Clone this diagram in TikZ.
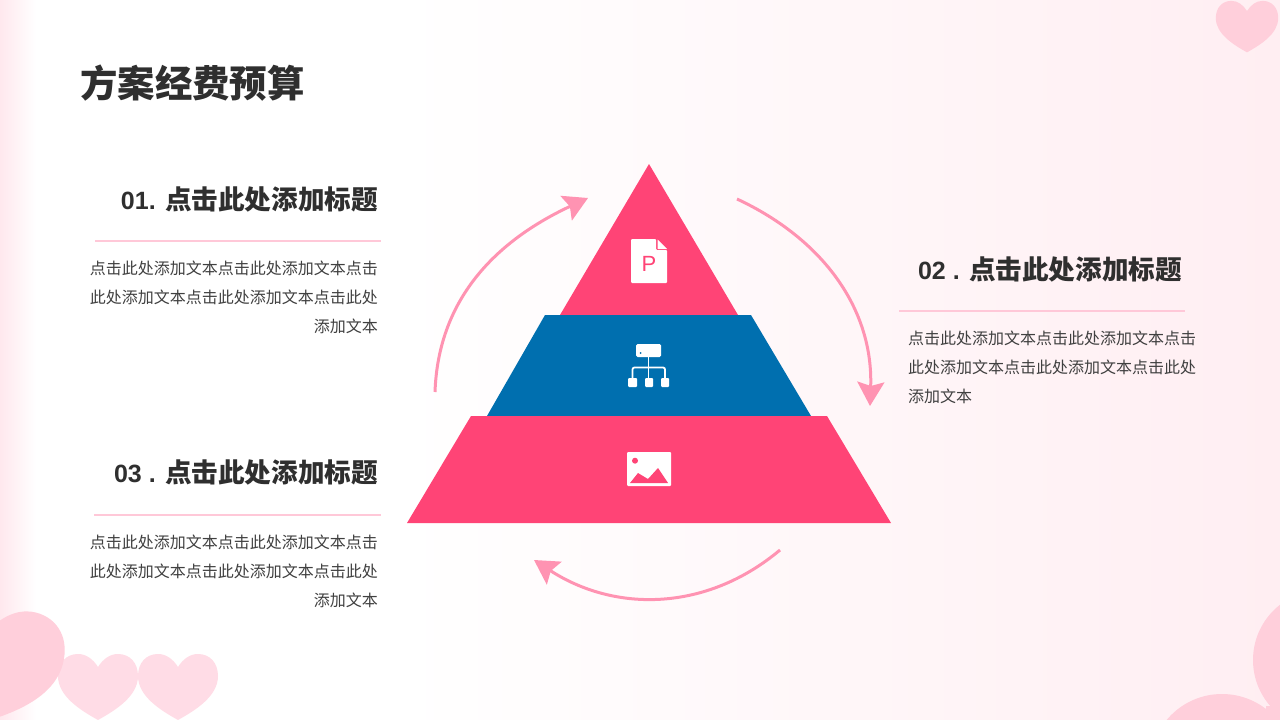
\documentclass[tikz,border=0pt]{standalone}
\usepackage{fontspec}
\setmainfont{Noto Sans CJK SC}
\newfontfamily\latinfont{Liberation Sans}
\usetikzlibrary{arrows.meta}
\definecolor{rosered}{HTML}{FF4476}
\definecolor{tierblue}{HTML}{006FAF}
\definecolor{arcpink}{HTML}{FF93B2}
\definecolor{rulepink}{HTML}{FFC8D8}
\definecolor{heartdeep}{HTML}{FFCFDB}
\definecolor{heartsoft}{HTML}{FFDCE6}
\definecolor{inkdark}{HTML}{2F2F2F}
\definecolor{inkbody}{HTML}{404040}
\definecolor{tintright}{HTML}{FFEEF2}
\definecolor{tintleft}{HTML}{FFE8EE}
\tikzset{
  pics/heart/.style={code={
    \fill[pic actions] (0,0) .. controls (5,-8) and (12,-13) .. (20,-13)
      .. controls (32,-13) and (40,-4) .. (40,9)
      .. controls (40,29) and (18,43) .. (0,53)
      .. controls (-18,43) and (-40,29) .. (-40,9)
      .. controls (-40,-4) and (-32,-13) .. (-20,-13)
      .. controls (-12,-13) and (-5,-8) .. (0,0) -- cycle;
  }}
}
\begin{document}
\begin{tikzpicture}[x=1pt,y=-1pt,
    title/.style={anchor=west,inner sep=0pt,text=inkdark,font=\fontsize{37.4}{40}\selectfont\bfseries},
    headline/.style={anchor=east,inner sep=0pt,text=inkdark,font=\fontsize{26.6}{30}\selectfont\bfseries},
    bodytext/.style={inner sep=0pt,text=inkbody,font=\fontsize{16}{29}\selectfont},
    rulerline/.style={draw=rulepink,line width=1.2pt},
    cyclearc/.style={draw=arcpink,line width=3pt,-{Stealth[length=24pt,width=27pt,inset=4pt]}},
    icon/.style={fill=white}]
  \clip (0,0) rectangle (1280,720);
  % background
  \fill[white] (0,0) rectangle (1280,720);
  \shade[left color=white,right color=tintright] (400,0) rectangle (1280,720);
  \shade[left color=tintleft,right color=white] (0,0) rectangle (36,720);

  % hearts
  \pic[fill=heartdeep,scale=.78] at (1247,11) {heart};
  \pic[fill=heartsoft] at (98,667) {heart};
  \pic[fill=heartsoft] at (178,667) {heart};
  \pic[fill=heartdeep,scale=1.95,rotate=-15] at (-8,627) {heart};
  \fill[heartdeep] (1222,766) circle (72pt) (1323,660) circle (70pt) (1266,706) rectangle (1280,720);

  % pyramid
  \fill[rosered] (649,164) -- (738,315) -- (560,315) -- cycle;
  \fill[tierblue] (545,315) -- (751,315) -- (811,416) -- (487,416) -- cycle;
  \fill[rosered] (471,416) -- (827,416) -- (891,523) -- (407,523) -- cycle;

  % icons
  \fill[icon,rounded corners=1pt] (631,239) -- (656,239) -- (656,250) -- (667,250) -- (667,283) -- (631,283) -- cycle;
  \fill[icon] (657.5,239.5) -- (667,249) -- (657.5,249) -- cycle;
  \node[inner sep=0pt,text=rosered,font=\latinfont\fontsize{22}{22}\selectfont] (iconP) at (649,264) {P};

  \fill[icon,rounded corners=1.5pt] (636,344) rectangle (661,357);
  \fill[tierblue] (640.5,353) circle (1pt);
  \draw[white,line width=1.8pt,rounded corners=2pt] (632.5,380) -- (632.5,367.5) -- (665,367.5) -- (665,380);
  \draw[white,line width=1.8pt] (648.5,357) -- (648.5,380);
  \fill[icon,rounded corners=1pt] (628,378) rectangle (637,387);
  \fill[icon,rounded corners=1pt] (645,378) rectangle (653,387);
  \fill[icon,rounded corners=1pt] (661,378) rectangle (669,387);

  \fill[icon,rounded corners=1pt] (627,452) rectangle (671,486);
  \fill[rosered] (635,460.7) circle (3pt);
  \fill[rosered] (630,483) -- (638,473) -- (648,479) -- (658,468) -- (668,483) -- cycle;

  % cycle arrows
  \coordinate (arcAs) at (435,392);
  \coordinate (arcAe) at (588,198);
  \coordinate (arcBs) at (737,199);
  \coordinate (arcBe) at (870,406);
  \coordinate (arcCs) at (780,550);
  \coordinate (arcCe) at (534,560);
  \path (arcAs) edge [cyclearc,out=88,in=205] (arcAe);
  \path (arcBs) edge [cyclearc,out=-25,in=88] (arcBe);
  \path (arcCs) edge [cyclearc,out=220,in=-33] (arcCe);

  % texts
  \node[title] (pagetitle) at (80,83) {方案经费预算};

  \node[headline] (headA) at (378,199) {{\latinfont\fontsize{25}{30}\selectfont 01. }点击此处添加标题};
  \coordinate (ruleAl) at (95,241);
  \coordinate (ruleAr) at (381,241);
  \draw[rulerline] (ruleAl) -- (ruleAr);
  \node[bodytext,anchor=north east,align=right] (bodyA) at (378,261) {点击此处添加文本点击此处添加文本点击\\此处添加文本点击此处添加文本点击此处\\添加文本};

  \node[headline] (headB) at (1182,269) {{\latinfont\fontsize{25}{30}\selectfont 02 . }点击此处添加标题};
  \coordinate (ruleBl) at (899,311);
  \coordinate (ruleBr) at (1185,311);
  \draw[rulerline] (ruleBl) -- (ruleBr);
  \node[bodytext,anchor=north west,align=left] (bodyB) at (908,331) {点击此处添加文本点击此处添加文本点击\\此处添加文本点击此处添加文本点击此处\\添加文本};

  \node[headline] (headC) at (378,472) {{\latinfont\fontsize{25}{30}\selectfont 03 . }点击此处添加标题};
  \coordinate (ruleCl) at (94,515);
  \coordinate (ruleCr) at (381,515);
  \draw[rulerline] (ruleCl) -- (ruleCr);
  \node[bodytext,anchor=north east,align=right] (bodyC) at (378,535) {点击此处添加文本点击此处添加文本点击\\此处添加文本点击此处添加文本点击此处\\添加文本};
\end{tikzpicture}
\end{document}
